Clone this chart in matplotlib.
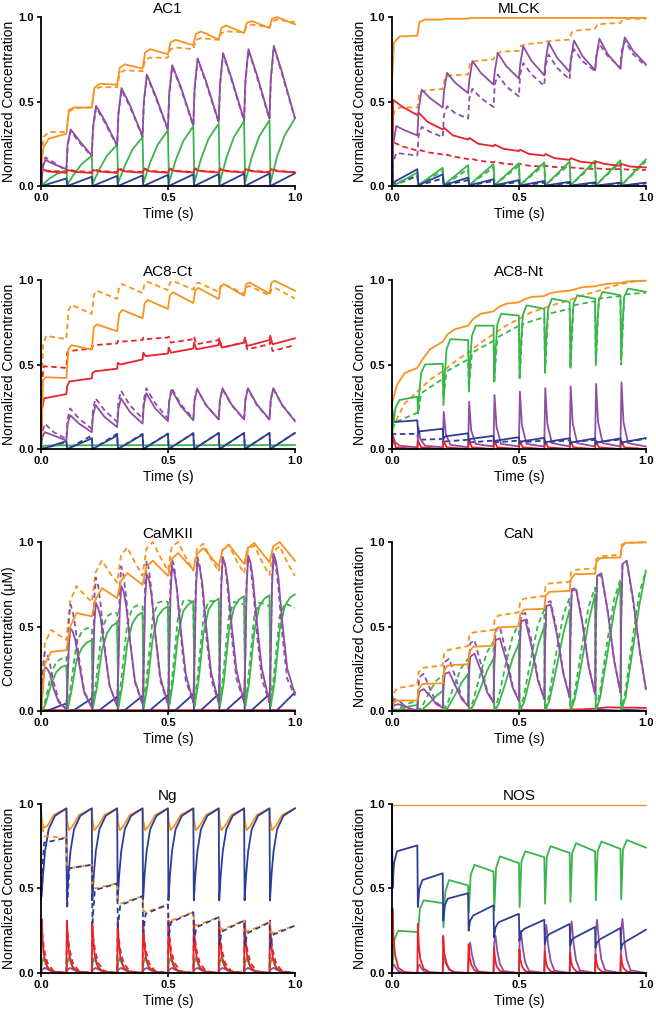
import matplotlib
matplotlib.use("Agg")
import matplotlib.pyplot as plt

# stimulation pulses (s); every curve below is given per pulse period as
# values read at fixed time offsets after the pulse
PULSES = [0.0, 0.1, 0.2, 0.3, 0.4, 0.5, 0.6, 0.7, 0.8, 0.9]

OR = "#F7931E"
PU = "#8E4FA3"
GR = "#3AB54A"
BL = "#2E3E98"
RD = "#E8232A"

# ---------------- AC1 ----------------
AC1_OR_S = ([0.01, 0.03, 0.1], 0.12, [
    (0.23, 0.28, 0.31), (0.45, 0.465, 0.465), (0.58, 0.605, 0.60), (0.70, 0.72, 0.695),
    (0.79, 0.81, 0.78), (0.85, 0.865, 0.833), (0.90, 0.915, 0.868), (0.935, 0.95, 0.905),
    (0.965, 0.976, 0.935), (0.99, 1.0, 0.957)])
AC1_OR_D = ([0.01, 0.03, 0.1], 0.13, [
    (0.29, 0.32, 0.32), (0.44, 0.46, 0.465), (0.57, 0.585, 0.585), (0.67, 0.685, 0.68),
    (0.745, 0.76, 0.76), (0.81, 0.82, 0.81), (0.865, 0.875, 0.865), (0.905, 0.915, 0.91),
    (0.945, 0.955, 0.94), (0.975, 0.985, 0.97)])
AC1_PU_S = ([0.005, 0.017, 0.05, 0.1], 0.0, [
    (0.10, 0.155, 0.13, 0.10), (0.25, 0.335, 0.27, 0.18), (0.35, 0.475, 0.39, 0.24),
    (0.43, 0.58, 0.48, 0.295), (0.50, 0.66, 0.54, 0.335), (0.55, 0.715, 0.59, 0.36),
    (0.58, 0.755, 0.62, 0.38), (0.60, 0.787, 0.64, 0.39), (0.62, 0.81, 0.66, 0.40),
    (0.63, 0.83, 0.67, 0.405)])
AC1_PU_D = ([0.005, 0.017, 0.05, 0.1], 0.0, [
    (0.12, 0.17, 0.14, 0.09), (0.24, 0.325, 0.26, 0.175), (0.34, 0.465, 0.38, 0.235),
    (0.42, 0.57, 0.47, 0.29), (0.49, 0.65, 0.53, 0.33), (0.54, 0.71, 0.58, 0.355),
    (0.57, 0.75, 0.61, 0.375), (0.59, 0.78, 0.63, 0.385), (0.61, 0.805, 0.65, 0.395),
    (0.62, 0.825, 0.66, 0.40)])
AC1_GR_S = ([0.004, 0.03, 0.06, 0.1], 0.0, [
    (0.005, 0.04, 0.07, 0.095), (0.01, 0.07, 0.13, 0.18), (0.015, 0.10, 0.18, 0.245),
    (0.02, 0.12, 0.215, 0.29), (0.02, 0.14, 0.245, 0.33), (0.02, 0.15, 0.265, 0.355),
    (0.02, 0.16, 0.28, 0.37), (0.02, 0.165, 0.29, 0.385), (0.02, 0.17, 0.295, 0.39),
    (0.02, 0.175, 0.30, 0.40)])
AC1_BL_S = ([0.003, 0.1], 0.12, [
    (0.0, 0.045), (0.0, 0.055), (0.0, 0.06), (0.0, 0.063), (0.0, 0.066),
    (0.0, 0.069), (0.0, 0.071), (0.0, 0.073), (0.0, 0.074), (0.0, 0.075)])
AC1_RD_S = ([0.006, 0.03, 0.1], 0.0, [
    (0.10, 0.086, 0.078), (0.095, 0.085, 0.077), (0.095, 0.086, 0.078), (0.10, 0.087, 0.079),
    (0.10, 0.087, 0.079), (0.10, 0.088, 0.08), (0.10, 0.088, 0.08), (0.10, 0.088, 0.08),
    (0.10, 0.088, 0.08), (0.10, 0.088, 0.08)])
AC1_RD_D = ([0.006, 0.03, 0.1], 0.0, [
    (0.09, 0.09, 0.085), (0.10, 0.09, 0.082), (0.10, 0.09, 0.082), (0.105, 0.09, 0.082),
    (0.105, 0.09, 0.082), (0.105, 0.09, 0.083), (0.105, 0.09, 0.083), (0.105, 0.09, 0.083),
    (0.105, 0.09, 0.083), (0.105, 0.09, 0.083)])

# ---------------- MLCK ----------------
MLCK_OR_S = ([0.008, 0.03, 0.1], 0.62, [
    (0.85, 0.885, 0.89), (0.97, 0.985, 0.985), (0.99, 0.99, 0.99), (0.995, 0.995, 0.995),
    (0.995, 0.995, 0.995), (0.995, 0.995, 0.995), (0.995, 0.995, 0.995), (0.995, 0.995, 0.995),
    (0.995, 0.995, 0.995), (0.995, 0.995, 0.995)])
MLCK_OR_D = ([0.008, 0.03, 0.1], 0.31, [
    (0.44, 0.465, 0.465), (0.55, 0.565, 0.575), (0.64, 0.655, 0.66), (0.73, 0.74, 0.75),
    (0.78, 0.795, 0.80), (0.83, 0.84, 0.85), (0.855, 0.86, 0.866), (0.91, 0.92, 0.93),
    (0.955, 0.96, 0.965), (0.985, 0.99, 0.99)])
MLCK_PU_S = ([0.005, 0.017, 0.05, 0.1], 0.0, [
    (0.25, 0.355, 0.33, 0.30), (0.45, 0.57, 0.52, 0.465), (0.56, 0.67, 0.61, 0.55),
    (0.63, 0.74, 0.67, 0.60), (0.68, 0.787, 0.71, 0.636), (0.72, 0.827, 0.74, 0.655),
    (0.74, 0.85, 0.76, 0.675), (0.75, 0.862, 0.77, 0.685), (0.76, 0.872, 0.78, 0.693),
    (0.77, 0.88, 0.80, 0.72)])
MLCK_PU_D = ([0.005, 0.017, 0.05, 0.1], 0.0, [
    (0.14, 0.195, 0.19, 0.18), (0.30, 0.35, 0.32, 0.29), (0.42, 0.472, 0.43, 0.40),
    (0.52, 0.575, 0.52, 0.468), (0.60, 0.66, 0.59, 0.53), (0.66, 0.728, 0.66, 0.594),
    (0.71, 0.778, 0.70, 0.63), (0.75, 0.81, 0.74, 0.68), (0.78, 0.84, 0.77, 0.70),
    (0.80, 0.86, 0.78, 0.71)])
MLCK_RD_S = ([0.005, 0.04, 0.1], 0.0, [
    (0.51, 0.47, 0.42), (0.435, 0.38, 0.335), (0.345, 0.30, 0.275), (0.285, 0.25, 0.236),
    (0.245, 0.22, 0.207), (0.215, 0.19, 0.18), (0.19, 0.165, 0.155), (0.165, 0.145, 0.135),
    (0.145, 0.13, 0.12), (0.13, 0.115, 0.11)])
MLCK_RD_D = ([0.005, 0.04, 0.1], 0.0, [
    (0.26, 0.235, 0.21), (0.215, 0.20, 0.187), (0.19, 0.175, 0.16), (0.165, 0.15, 0.14),
    (0.145, 0.133, 0.125), (0.13, 0.12, 0.115), (0.12, 0.113, 0.11), (0.11, 0.105, 0.10),
    (0.105, 0.10, 0.10), (0.10, 0.097, 0.095)])
MLCK_GR_S = ([0.004, 0.1], 0.0, [
    (0.0, 0.08), (0.005, 0.108), (0.005, 0.124), (0.005, 0.13), (0.005, 0.135),
    (0.005, 0.14), (0.005, 0.145), (0.005, 0.15), (0.005, 0.152), (0.005, 0.157)])
MLCK_GR_D = ([0.004, 0.1], 0.0, [
    (0.0, 0.06), (0.005, 0.09), (0.005, 0.10), (0.005, 0.11), (0.005, 0.12),
    (0.005, 0.125), (0.005, 0.13), (0.005, 0.135), (0.005, 0.14), (0.005, 0.145)])
MLCK_BL_S = ([0.004, 0.1], 0.62, [
    (0.02, 0.10), (0.005, 0.069), (0.005, 0.05), (0.004, 0.04), (0.004, 0.035),
    (0.003, 0.03), (0.003, 0.025), (0.003, 0.022), (0.003, 0.02), (0.003, 0.02)])
MLCK_BL_D = ([0.004, 0.1], 0.0, [
    (0.01, 0.06), (0.003, 0.045), (0.003, 0.035), (0.003, 0.03), (0.003, 0.025),
    (0.002, 0.02), (0.002, 0.018), (0.002, 0.016), (0.002, 0.015), (0.002, 0.015)])

# ---------------- AC8-Ct ----------------
CT_OR_S = ([0.008, 0.02, 0.1], 0.0, [
    (0.41, 0.425, 0.42), (0.59, 0.615, 0.588), (0.72, 0.737, 0.697), (0.80, 0.823, 0.774),
    (0.86, 0.882, 0.829), (0.91, 0.927, 0.864), (0.94, 0.953, 0.888), (0.96, 0.976, 0.907),
    (0.975, 0.986, 0.92), (0.985, 0.996, 0.937)])
CT_OR_D = ([0.008, 0.02, 0.1], 0.0, [
    (0.62, 0.67, 0.65), (0.82, 0.853, 0.80), (0.91, 0.937, 0.888), (0.96, 0.976, 0.923),
    (0.98, 0.99, 0.94), (0.985, 0.995, 0.943), (0.975, 0.985, 0.93), (0.965, 0.975, 0.92),
    (0.955, 0.965, 0.91), (0.945, 0.955, 0.89)])
CT_RD_S = ([0.003, 0.012, 0.1], 0.0, [
    (0.22, 0.30, 0.325), (0.37, 0.40, 0.418), (0.45, 0.46, 0.475), (0.51, 0.50, 0.53),
    (0.57, 0.55, 0.565), (0.60, 0.57, 0.595), (0.63, 0.59, 0.615), (0.645, 0.60, 0.63),
    (0.66, 0.61, 0.645), (0.67, 0.62, 0.655)])
CT_RD_D = ([0.003, 0.012, 0.1], 0.0, [
    (0.40, 0.49, 0.48), (0.57, 0.58, 0.595), (0.61, 0.615, 0.625), (0.64, 0.635, 0.645),
    (0.66, 0.65, 0.66), (0.665, 0.63, 0.65), (0.665, 0.62, 0.645), (0.655, 0.60, 0.63),
    (0.645, 0.59, 0.62), (0.635, 0.58, 0.615)])
CT_PU_S = ([0.005, 0.015, 0.05, 0.1], 0.0, [
    (0.07, 0.10, 0.08, 0.05), (0.15, 0.20, 0.15, 0.10), (0.20, 0.26, 0.19, 0.13),
    (0.24, 0.30, 0.22, 0.15), (0.26, 0.33, 0.24, 0.165), (0.28, 0.35, 0.255, 0.17),
    (0.29, 0.355, 0.26, 0.175), (0.29, 0.36, 0.265, 0.175), (0.29, 0.36, 0.265, 0.175),
    (0.29, 0.36, 0.26, 0.165)])
CT_PU_D = ([0.005, 0.015, 0.05, 0.1], 0.0, [
    (0.10, 0.15, 0.10, 0.06), (0.18, 0.24, 0.18, 0.12), (0.24, 0.30, 0.23, 0.16),
    (0.28, 0.345, 0.26, 0.18), (0.29, 0.36, 0.27, 0.18), (0.29, 0.36, 0.265, 0.18),
    (0.29, 0.355, 0.26, 0.175), (0.29, 0.355, 0.26, 0.175), (0.29, 0.355, 0.26, 0.175),
    (0.29, 0.355, 0.26, 0.17)])
CT_BL_S = ([0.003, 0.1], 0.0, [
    (0.0, 0.047), (0.0, 0.063), (0.0, 0.08), (0.0, 0.085), (0.0, 0.09),
    (0.0, 0.093), (0.0, 0.095), (0.0, 0.095), (0.0, 0.095), (0.0, 0.095)])
CT_BL_D = ([0.003, 0.1], 0.0, [
    (0.0, 0.04), (0.0, 0.08), (0.0, 0.09), (0.0, 0.09), (0.0, 0.092),
    (0.0, 0.094), (0.0, 0.095), (0.0, 0.095), (0.0, 0.095), (0.0, 0.095)])
CT_GR_S = ([0.01, 0.1], 0.0, [
    (0.02, 0.022), (0.021, 0.023), (0.022, 0.023), (0.022, 0.024), (0.022, 0.024),
    (0.022, 0.024), (0.022, 0.024), (0.022, 0.024), (0.022, 0.024), (0.022, 0.024)])

# ---------------- AC8-Nt ----------------
NT_OR_S = ([0.02, 0.05, 0.1], 0.27, [
    (0.38, 0.45, 0.48), (0.53, 0.59, 0.635), (0.68, 0.71, 0.73), (0.77, 0.80, 0.815),
    (0.84, 0.86, 0.868), (0.885, 0.90, 0.905), (0.92, 0.93, 0.937), (0.945, 0.958, 0.963),
    (0.97, 0.978, 0.982), (0.99, 0.994, 0.996)])
NT_OR_D = ([0.05, 0.1], 0.12, [
    (0.27, 0.34), (0.41, 0.46), (0.52, 0.57), (0.63, 0.68), (0.73, 0.77),
    (0.81, 0.835), (0.86, 0.88), (0.91, 0.93), (0.955, 0.975), (0.99, 0.996)])
NT_GR_S = ([0.003, 0.008, 0.015, 0.03, 0.1], 0.05, [
    (0.12, 0.18, 0.25, 0.29, 0.31), (0.21, 0.34, 0.45, 0.50, 0.505),
    (0.26, 0.44, 0.59, 0.65, 0.645), (0.34, 0.52, 0.67, 0.73, 0.73),
    (0.40, 0.58, 0.74, 0.80, 0.79), (0.42, 0.62, 0.79, 0.85, 0.83),
    (0.46, 0.66, 0.83, 0.89, 0.87), (0.50, 0.69, 0.86, 0.91, 0.89),
    (0.52, 0.71, 0.88, 0.93, 0.91), (0.53, 0.73, 0.90, 0.95, 0.93)])
NT_GR_D = ([0.003, 0.015, 0.1], 0.12, [
    (0.12, 0.16, 0.215), (0.21, 0.33, 0.415), (0.30, 0.46, 0.53), (0.36, 0.57, 0.64),
    (0.40, 0.66, 0.73), (0.42, 0.74, 0.78), (0.45, 0.80, 0.83), (0.47, 0.85, 0.875),
    (0.49, 0.89, 0.905), (0.50, 0.915, 0.925)])
NT_PU_S = ([0.004, 0.012, 0.03, 0.1], 0.0, [
    (0.08, 0.04, 0.02, 0.01), (0.13, 0.06, 0.02, 0.01), (0.22, 0.09, 0.025, 0.01),
    (0.28, 0.11, 0.03, 0.015), (0.32, 0.13, 0.03, 0.015), (0.34, 0.14, 0.03, 0.015),
    (0.36, 0.15, 0.035, 0.015), (0.37, 0.15, 0.035, 0.015), (0.385, 0.16, 0.035, 0.015),
    (0.395, 0.16, 0.035, 0.015)])
NT_BL_S = ([0.003, 0.01, 0.1], 0.27, [
    (0.20, 0.16, 0.17), (0.09, 0.105, 0.12), (0.06, 0.075, 0.093), (0.045, 0.06, 0.078),
    (0.04, 0.05, 0.07), (0.035, 0.045, 0.066), (0.032, 0.042, 0.064), (0.03, 0.04, 0.063),
    (0.03, 0.04, 0.063), (0.03, 0.04, 0.065)])
NT_BL_D = ([0.003, 0.01, 0.1], 0.10, [
    (0.09, 0.088, 0.09), (0.05, 0.055, 0.06), (0.04, 0.045, 0.055), (0.035, 0.04, 0.05),
    (0.033, 0.04, 0.05), (0.03, 0.04, 0.05), (0.03, 0.04, 0.052), (0.03, 0.04, 0.055),
    (0.03, 0.04, 0.057), (0.03, 0.04, 0.06)])
NT_RD_S = ([0.003, 0.015, 0.1], 0.0, [
    (0.07, 0.01, 0.0), (0.05, 0.01, 0.0), (0.05, 0.01, 0.0), (0.05, 0.01, 0.0), (0.05, 0.01, 0.0),
    (0.05, 0.01, 0.0), (0.05, 0.01, 0.0), (0.05, 0.01, 0.0), (0.05, 0.01, 0.0), (0.05, 0.01, 0.0)])

# ---------------- CaMKII ----------------
CK_OR_S = ([0.015, 0.04, 0.1], 0.0, [
    (0.28, 0.35, 0.36), (0.50, 0.58, 0.56), (0.66, 0.727, 0.668), (0.77, 0.816, 0.747),
    (0.85, 0.89, 0.80), (0.90, 0.935, 0.836), (0.93, 0.964, 0.856), (0.95, 0.984, 0.87),
    (0.965, 0.994, 0.88), (0.975, 1.0, 0.889)])
CK_OR_D = ([0.015, 0.04, 0.07, 0.1], 0.0, [
    (0.40, 0.48, 0.45, 0.42), (0.65, 0.74, 0.69, 0.645), (0.82, 0.89, 0.82, 0.76),
    (0.92, 0.968, 0.88, 0.80), (0.96, 1.0, 0.91, 0.83), (0.97, 1.0, 0.91, 0.83),
    (0.96, 0.99, 0.90, 0.825), (0.955, 0.985, 0.89, 0.815), (0.95, 0.98, 0.885, 0.805),
    (0.945, 0.975, 0.88, 0.80)])
CK_PU_S = ([0.005, 0.01, 0.016, 0.025, 0.035, 0.05, 0.07, 0.1], 0.0, [
    (0.09, 0.21, 0.26, 0.25, 0.22, 0.13, 0.05, 0.01),
    (0.17, 0.39, 0.49, 0.47, 0.42, 0.28, 0.11, 0.02),
    (0.22, 0.51, 0.64, 0.61, 0.55, 0.37, 0.15, 0.03),
    (0.26, 0.59, 0.74, 0.71, 0.63, 0.42, 0.18, 0.04),
    (0.28, 0.65, 0.81, 0.78, 0.69, 0.46, 0.20, 0.04),
    (0.30, 0.68, 0.855, 0.82, 0.73, 0.49, 0.22, 0.05),
    (0.31, 0.71, 0.889, 0.85, 0.76, 0.51, 0.23, 0.05),
    (0.32, 0.73, 0.91, 0.87, 0.77, 0.52, 0.24, 0.05),
    (0.32, 0.74, 0.92, 0.88, 0.78, 0.53, 0.25, 0.05),
    (0.33, 0.74, 0.93, 0.89, 0.79, 0.53, 0.25, 0.10)])
CK_PU_D = ([0.005, 0.01, 0.016, 0.025, 0.035, 0.05, 0.07, 0.1], 0.0, [
    (0.14, 0.30, 0.35, 0.33, 0.28, 0.17, 0.06, 0.01),
    (0.25, 0.54, 0.63, 0.59, 0.50, 0.31, 0.12, 0.02),
    (0.32, 0.67, 0.79, 0.74, 0.63, 0.39, 0.15, 0.03),
    (0.34, 0.73, 0.855, 0.80, 0.68, 0.43, 0.17, 0.04),
    (0.36, 0.76, 0.89, 0.84, 0.71, 0.45, 0.18, 0.04),
    (0.36, 0.77, 0.90, 0.85, 0.72, 0.45, 0.18, 0.05),
    (0.36, 0.77, 0.91, 0.86, 0.73, 0.46, 0.19, 0.05),
    (0.36, 0.77, 0.91, 0.86, 0.73, 0.46, 0.19, 0.05),
    (0.36, 0.77, 0.91, 0.86, 0.73, 0.46, 0.19, 0.05),
    (0.37, 0.78, 0.915, 0.86, 0.73, 0.46, 0.19, 0.09)])
CK_GR_S = ([0.005, 0.02, 0.04, 0.06, 0.08, 0.1], 0.0, [
    (0.0, 0.05, 0.16, 0.23, 0.26, 0.27), (0.01, 0.12, 0.30, 0.37, 0.405, 0.42),
    (0.02, 0.14, 0.36, 0.46, 0.505, 0.524), (0.02, 0.15, 0.40, 0.52, 0.565, 0.583),
    (0.02, 0.16, 0.43, 0.56, 0.60, 0.62), (0.03, 0.17, 0.45, 0.59, 0.63, 0.65),
    (0.03, 0.17, 0.46, 0.60, 0.645, 0.665), (0.03, 0.17, 0.47, 0.61, 0.66, 0.68),
    (0.03, 0.17, 0.47, 0.62, 0.665, 0.685), (0.03, 0.17, 0.48, 0.62, 0.67, 0.69)])
CK_GR_D = ([0.005, 0.02, 0.04, 0.06, 0.08, 0.1], 0.0, [
    (0.0, 0.08, 0.22, 0.29, 0.31, 0.32), (0.01, 0.18, 0.40, 0.47, 0.49, 0.49),
    (0.02, 0.22, 0.48, 0.56, 0.58, 0.58), (0.02, 0.24, 0.52, 0.61, 0.625, 0.62),
    (0.02, 0.25, 0.55, 0.64, 0.65, 0.645), (0.03, 0.25, 0.56, 0.65, 0.655, 0.645),
    (0.03, 0.25, 0.56, 0.65, 0.65, 0.64), (0.03, 0.25, 0.56, 0.645, 0.64, 0.63),
    (0.03, 0.25, 0.56, 0.64, 0.635, 0.62), (0.03, 0.25, 0.56, 0.635, 0.625, 0.61)])
CK_BL_S = ([0.003, 0.03, 0.1], 0.0, [
    (0.0, 0.005, 0.045), (0.0, 0.005, 0.075), (0.0, 0.005, 0.085), (0.0, 0.005, 0.09),
    (0.0, 0.005, 0.095), (0.0, 0.005, 0.10), (0.0, 0.005, 0.10), (0.0, 0.005, 0.10),
    (0.0, 0.005, 0.10), (0.0, 0.005, 0.11)])
CK_RD_S = ([0.01, 0.1], 0.0, [
    (0.006, 0.005), (0.006, 0.005), (0.006, 0.005), (0.006, 0.005), (0.006, 0.005),
    (0.006, 0.005), (0.006, 0.005), (0.006, 0.005), (0.006, 0.005), (0.006, 0.005)])

# ---------------- CaN ----------------
CN_OR_S = ([0.005, 0.02, 0.1], 0.0, [
    (0.045, 0.062, 0.062), (0.13, 0.16, 0.164), (0.24, 0.27, 0.277), (0.35, 0.38, 0.387),
    (0.46, 0.495, 0.50), (0.57, 0.60, 0.605), (0.68, 0.705, 0.711), (0.78, 0.81, 0.812),
    (0.88, 0.905, 0.909), (0.97, 0.995, 0.998)])
CN_OR_D = ([0.005, 0.02, 0.1], 0.0, [
    (0.10, 0.135, 0.155), (0.23, 0.255, 0.27), (0.34, 0.36, 0.385), (0.45, 0.465, 0.48),
    (0.55, 0.565, 0.585), (0.65, 0.665, 0.68), (0.74, 0.755, 0.765), (0.82, 0.835, 0.845),
    (0.90, 0.915, 0.925), (0.985, 0.995, 1.0)])
CN_PU_S = ([0.003, 0.008, 0.025, 0.05, 0.075, 0.1], 0.0, [
    (0.02, 0.035, 0.04, 0.03, 0.012, 0.005), (0.07, 0.115, 0.13, 0.09, 0.04, 0.02),
    (0.14, 0.22, 0.23, 0.15, 0.07, 0.03), (0.20, 0.32, 0.34, 0.24, 0.11, 0.05),
    (0.26, 0.42, 0.43, 0.30, 0.14, 0.06), (0.33, 0.53, 0.54, 0.38, 0.18, 0.07),
    (0.38, 0.62, 0.63, 0.45, 0.22, 0.08), (0.44, 0.71, 0.72, 0.52, 0.26, 0.10),
    (0.50, 0.80, 0.815, 0.59, 0.30, 0.11), (0.55, 0.87, 0.89, 0.66, 0.37, 0.13)])
CN_PU_D = ([0.003, 0.008, 0.025, 0.05, 0.075, 0.1], 0.0, [
    (0.04, 0.07, 0.065, 0.03, 0.01, 0.005), (0.12, 0.20, 0.22, 0.13, 0.05, 0.02),
    (0.18, 0.29, 0.31, 0.20, 0.08, 0.03), (0.25, 0.40, 0.42, 0.28, 0.12, 0.05),
    (0.31, 0.48, 0.50, 0.34, 0.15, 0.06), (0.37, 0.57, 0.58, 0.41, 0.19, 0.07),
    (0.41, 0.64, 0.65, 0.47, 0.23, 0.08), (0.46, 0.72, 0.73, 0.53, 0.27, 0.10),
    (0.50, 0.80, 0.80, 0.59, 0.30, 0.11), (0.55, 0.87, 0.88, 0.65, 0.36, 0.13)])
CN_GR_S = ([0.003, 0.02, 0.05, 0.075, 0.1], 0.0, [
    (0.0, 0.005, 0.02, 0.03, 0.035), (0.0, 0.01, 0.05, 0.09, 0.12),
    (0.0, 0.02, 0.10, 0.17, 0.22), (0.0, 0.03, 0.14, 0.24, 0.31),
    (0.0, 0.04, 0.18, 0.31, 0.40), (0.0, 0.05, 0.23, 0.39, 0.50),
    (0.0, 0.06, 0.27, 0.46, 0.60), (0.0, 0.07, 0.31, 0.53, 0.69),
    (0.0, 0.08, 0.35, 0.59, 0.76), (0.0, 0.08, 0.38, 0.63, 0.83)])
CN_GR_D = ([0.003, 0.02, 0.05, 0.075, 0.1], 0.0, [
    (0.0, 0.01, 0.035, 0.05, 0.06), (0.0, 0.03, 0.12, 0.18, 0.21),
    (0.0, 0.05, 0.17, 0.26, 0.31), (0.0, 0.06, 0.23, 0.35, 0.41),
    (0.0, 0.08, 0.29, 0.44, 0.52), (0.0, 0.09, 0.33, 0.51, 0.60),
    (0.0, 0.10, 0.37, 0.57, 0.67), (0.0, 0.11, 0.40, 0.62, 0.73),
    (0.0, 0.12, 0.43, 0.66, 0.78), (0.0, 0.12, 0.45, 0.70, 0.83)])
CN_RD_S = ([0.05, 0.1], 0.0, [
    (0.005, 0.005), (0.005, 0.005), (0.005, 0.005), (0.005, 0.005), (0.005, 0.005),
    (0.005, 0.006), (0.006, 0.008), (0.01, 0.014), (0.022, 0.02), (0.02, 0.018)])
CN_BL_S = ([0.01, 0.1], 0.0, [
    (0.008, 0.002), (0.008, 0.002), (0.008, 0.002), (0.008, 0.002), (0.008, 0.002),
    (0.008, 0.002), (0.008, 0.002), (0.008, 0.002), (0.008, 0.002), (0.008, 0.002)])

# ---------------- Ng ----------------
NG_BL_S = ([0.002, 0.008, 0.016, 0.03, 0.055, 0.1], 0.45, [
    (0.45, 0.58, 0.72, 0.85, 0.93, 0.974), (0.43, 0.58, 0.72, 0.85, 0.93, 0.974),
    (0.43, 0.58, 0.72, 0.85, 0.93, 0.974), (0.43, 0.58, 0.72, 0.85, 0.93, 0.974),
    (0.43, 0.58, 0.72, 0.85, 0.93, 0.974), (0.43, 0.58, 0.72, 0.85, 0.93, 0.974),
    (0.43, 0.58, 0.72, 0.85, 0.93, 0.974), (0.43, 0.58, 0.72, 0.85, 0.93, 0.974),
    (0.43, 0.58, 0.72, 0.85, 0.93, 0.974), (0.43, 0.58, 0.72, 0.85, 0.93, 0.974)])
NG_OR_S = ([0.003, 0.01, 0.025, 0.05, 0.1], 0.97, [
    (0.90, 0.86, 0.87, 0.935, 0.974), (0.90, 0.845, 0.87, 0.935, 0.974),
    (0.90, 0.845, 0.87, 0.935, 0.974), (0.90, 0.845, 0.87, 0.935, 0.974),
    (0.90, 0.845, 0.87, 0.935, 0.974), (0.90, 0.845, 0.87, 0.935, 0.974),
    (0.90, 0.845, 0.87, 0.935, 0.974), (0.90, 0.845, 0.87, 0.935, 0.974),
    (0.90, 0.845, 0.87, 0.935, 0.974), (0.90, 0.845, 0.87, 0.935, 0.974)])
NG_BL_D = ([0.003, 0.012, 0.1], 0.43, [
    (0.55, 0.77, 0.80), (0.38, 0.62, 0.64), (0.30, 0.49, 0.53), (0.27, 0.40, 0.455),
    (0.24, 0.35, 0.405), (0.21, 0.30, 0.36), (0.19, 0.27, 0.33), (0.17, 0.245, 0.31),
    (0.16, 0.235, 0.30), (0.15, 0.225, 0.28)])
NG_OR_D = ([0.003, 0.012, 0.1], 0.97, [
    (0.88, 0.81, 0.80), (0.64, 0.62, 0.64), (0.52, 0.50, 0.53), (0.43, 0.41, 0.455),
    (0.37, 0.36, 0.405), (0.33, 0.31, 0.36), (0.30, 0.28, 0.33), (0.28, 0.255, 0.31),
    (0.27, 0.245, 0.30), (0.25, 0.235, 0.28)])
NG_RD_S = ([0.002, 0.006, 0.012, 0.025, 0.05, 0.1], 0.0, [
    (0.32, 0.20, 0.10, 0.03, 0.005, 0.0), (0.31, 0.20, 0.10, 0.03, 0.005, 0.0),
    (0.30, 0.19, 0.10, 0.03, 0.005, 0.0), (0.30, 0.19, 0.10, 0.03, 0.005, 0.0),
    (0.31, 0.19, 0.10, 0.03, 0.005, 0.0), (0.31, 0.19, 0.10, 0.03, 0.005, 0.0),
    (0.31, 0.19, 0.10, 0.03, 0.005, 0.0), (0.31, 0.19, 0.10, 0.03, 0.005, 0.0),
    (0.31, 0.19, 0.10, 0.03, 0.005, 0.0), (0.31, 0.19, 0.10, 0.03, 0.005, 0.0)])
NG_RD_D = ([0.002, 0.006, 0.012, 0.025, 0.05, 0.1], 0.0, [
    (0.28, 0.22, 0.14, 0.06, 0.01, 0.0), (0.28, 0.22, 0.14, 0.06, 0.01, 0.0),
    (0.27, 0.21, 0.14, 0.06, 0.01, 0.0), (0.27, 0.21, 0.14, 0.06, 0.01, 0.0),
    (0.27, 0.21, 0.14, 0.06, 0.01, 0.0), (0.27, 0.21, 0.14, 0.06, 0.01, 0.0),
    (0.27, 0.21, 0.14, 0.06, 0.01, 0.0), (0.27, 0.21, 0.14, 0.06, 0.01, 0.0),
    (0.27, 0.21, 0.14, 0.06, 0.01, 0.0), (0.27, 0.21, 0.14, 0.06, 0.01, 0.0)])
NG_GR_S = ([0.004, 0.01, 0.02, 0.04, 0.1], 0.0, [
    (0.06, 0.09, 0.05, 0.01, 0.0), (0.06, 0.09, 0.05, 0.01, 0.0), (0.06, 0.09, 0.05, 0.01, 0.0),
    (0.06, 0.09, 0.05, 0.01, 0.0), (0.06, 0.09, 0.05, 0.01, 0.0), (0.06, 0.09, 0.05, 0.01, 0.0),
    (0.06, 0.09, 0.05, 0.01, 0.0), (0.06, 0.09, 0.05, 0.01, 0.0), (0.06, 0.09, 0.05, 0.01, 0.0),
    (0.06, 0.09, 0.05, 0.01, 0.0)])
NG_PU_S = ([0.005, 0.015, 0.04, 0.1], 0.0, [
    (0.02, 0.03, 0.01, 0.0), (0.02, 0.03, 0.01, 0.0), (0.02, 0.03, 0.01, 0.0), (0.02, 0.03, 0.01, 0.0),
    (0.02, 0.03, 0.01, 0.0), (0.02, 0.03, 0.01, 0.0), (0.02, 0.03, 0.01, 0.0), (0.02, 0.03, 0.01, 0.0),
    (0.02, 0.03, 0.01, 0.0), (0.02, 0.03, 0.01, 0.0)])

# ---------------- NOS ----------------
NOS_OR_S = ([0.1], 0.995, [
    (0.995,), (0.995,), (0.995,), (0.995,), (0.995,),
    (0.995,), (0.995,), (0.995,), (0.995,), (0.995,)])
NOS_BL_S = ([0.002, 0.008, 0.02, 0.1], 1.0, [
    (0.50, 0.65, 0.72, 0.755), (0.39, 0.50, 0.55, 0.59), (0.31, 0.40, 0.44, 0.472),
    (0.25, 0.31, 0.34, 0.40), (0.21, 0.27, 0.30, 0.35), (0.19, 0.24, 0.26, 0.315),
    (0.17, 0.21, 0.23, 0.29), (0.16, 0.195, 0.21, 0.272), (0.15, 0.18, 0.20, 0.266),
    (0.14, 0.17, 0.185, 0.256)])
NOS_GR_S = ([0.003, 0.01, 0.025, 0.1], 0.0, [
    (0.05, 0.20, 0.25, 0.242), (0.24, 0.38, 0.43, 0.413), (0.27, 0.48, 0.55, 0.518),
    (0.36, 0.58, 0.64, 0.60), (0.37, 0.62, 0.69, 0.65), (0.39, 0.66, 0.72, 0.685),
    (0.41, 0.69, 0.75, 0.71), (0.42, 0.71, 0.768, 0.72), (0.43, 0.72, 0.778, 0.734),
    (0.435, 0.73, 0.787, 0.742)])
NOS_RD_S = ([0.002, 0.006, 0.012, 0.025, 0.05, 0.1], 0.0, [
    (0.38, 0.21, 0.11, 0.03, 0.005, 0.0), (0.29, 0.16, 0.08, 0.025, 0.004, 0.0),
    (0.22, 0.12, 0.06, 0.02, 0.003, 0.0), (0.17, 0.095, 0.05, 0.015, 0.003, 0.0),
    (0.15, 0.085, 0.04, 0.012, 0.002, 0.0), (0.14, 0.08, 0.04, 0.011, 0.002, 0.0),
    (0.13, 0.07, 0.035, 0.01, 0.002, 0.0), (0.12, 0.065, 0.035, 0.01, 0.002, 0.0),
    (0.11, 0.06, 0.03, 0.009, 0.002, 0.0), (0.11, 0.06, 0.03, 0.009, 0.002, 0.0)])
NOS_PU_S = ([0.003, 0.008, 0.015, 0.025, 0.04, 0.1], 0.0, [
    (0.04, 0.05, 0.03, 0.012, 0.003, 0.0), (0.04, 0.05, 0.03, 0.012, 0.003, 0.0),
    (0.08, 0.10, 0.06, 0.025, 0.005, 0.0), (0.14, 0.18, 0.11, 0.045, 0.009, 0.0),
    (0.18, 0.22, 0.13, 0.055, 0.011, 0.0), (0.20, 0.25, 0.15, 0.063, 0.012, 0.0),
    (0.23, 0.285, 0.17, 0.071, 0.014, 0.0), (0.24, 0.305, 0.18, 0.076, 0.015, 0.0),
    (0.25, 0.315, 0.19, 0.079, 0.016, 0.0), (0.26, 0.32, 0.19, 0.08, 0.016, 0.0)])

NORM = "Normalized Concentration"
PANELS = [
    ("AC1", NORM, [(AC1_OR_D, OR, "--"), (AC1_PU_D, PU, "--"), (AC1_RD_D, RD, "--"),
                   (AC1_GR_S, GR, "-"), (AC1_BL_S, BL, "-"), (AC1_RD_S, RD, "-"),
                   (AC1_PU_S, PU, "-"), (AC1_OR_S, OR, "-")]),
    ("MLCK", NORM, [(MLCK_OR_D, OR, "--"), (MLCK_PU_D, PU, "--"), (MLCK_RD_D, RD, "--"),
                    (MLCK_GR_D, GR, "--"), (MLCK_BL_D, BL, "--"), (MLCK_GR_S, GR, "-"),
                    (MLCK_BL_S, BL, "-"), (MLCK_RD_S, RD, "-"), (MLCK_PU_S, PU, "-"),
                    (MLCK_OR_S, OR, "-")]),
    ("AC8-Ct", NORM, [(CT_OR_D, OR, "--"), (CT_RD_D, RD, "--"), (CT_PU_D, PU, "--"),
                      (CT_BL_D, BL, "--"), (CT_GR_S, GR, "-"), (CT_BL_S, BL, "-"),
                      (CT_PU_S, PU, "-"), (CT_RD_S, RD, "-"), (CT_OR_S, OR, "-")]),
    ("AC8-Nt", NORM, [(NT_OR_D, OR, "--"), (NT_GR_D, GR, "--"), (NT_BL_D, BL, "--"),
                      (NT_PU_S, PU, "-"), (NT_RD_S, RD, "-"), (NT_BL_S, BL, "-"),
                      (NT_GR_S, GR, "-"), (NT_OR_S, OR, "-")]),
    ("CaMKII", "Concentration (\u03bcM)", [(CK_OR_D, OR, "--"), (CK_GR_D, GR, "--"),
                                            (CK_PU_D, PU, "--"), (CK_RD_S, RD, "-"),
                                            (CK_BL_S, BL, "-"), (CK_GR_S, GR, "-"),
                                            (CK_PU_S, PU, "-"), (CK_OR_S, OR, "-")]),
    ("CaN", NORM, [(CN_OR_D, OR, "--"), (CN_PU_D, PU, "--"), (CN_GR_D, GR, "--"),
                   (CN_BL_S, BL, "-"), (CN_RD_S, RD, "-"), (CN_GR_S, GR, "-"),
                   (CN_PU_S, PU, "-"), (CN_OR_S, OR, "-")]),
    ("Ng", NORM, [(NG_PU_S, PU, "-"), (NG_GR_S, GR, "-"), (NG_RD_D, RD, "--"),
                  (NG_RD_S, RD, "-"), (NG_OR_S, OR, "-"), (NG_BL_S, BL, "-"),
                  (NG_OR_D, OR, "--"), (NG_BL_D, BL, "--")]),
    ("NOS", NORM, [(NOS_OR_S, OR, "-"), (NOS_PU_S, PU, "-"), (NOS_GR_S, GR, "-"),
                   (NOS_BL_S, BL, "-"), (NOS_RD_S, RD, "-")]),
]


def trace(curve):
    offsets, y0, periods = curve
    t, y = [0.0], [y0]
    for p, vals in zip(PULSES, periods):
        for o, v in zip(offsets, vals):
            t.append(p + o)
            y.append(v)
    return t, y


plt.rcParams["font.family"] = ["Liberation Sans", "DejaVu Sans"]
fig = plt.figure(figsize=(6.56, 10.15), dpi=100)

lefts = [0.0625, 0.5975]
bottoms = [0.8167, 0.5576, 0.2995, 0.0414]
w, h = 0.387, 0.1665

for i, (title, ylabel, curves) in enumerate(PANELS):
    ax = fig.add_axes([lefts[i % 2], bottoms[i // 2], w, h])
    for curve, color, ls in curves:
        t, y = trace(curve)
        lw = 0.9 if (title == "NOS" and color == OR) else 1.3
        ax.plot(t, y, color=color, lw=lw, ls=ls, dashes=(3, 2) if ls == "--" else (None, None),
                clip_on=False, solid_joinstyle="round")
    ax.set_xlim(0, 1)
    ax.set_ylim(0, 1)
    ax.set_xticks([0, 0.5, 1.0])
    ax.set_yticks([0, 0.5, 1.0])
    ax.set_xticklabels(["0.0", "0.5", "1.0"], fontweight="bold", fontsize=8)
    ax.set_yticklabels(["0.0", "0.5", "1.0"], fontweight="bold", fontsize=8)
    ax.tick_params(direction="out", length=3, width=1.2, pad=2)
    for s in ("top", "right"):
        ax.spines[s].set_visible(False)
    for s in ("left", "bottom"):
        ax.spines[s].set_linewidth(1.3)
    ax.set_title(title, fontsize=11, pad=3)
    ax.set_xlabel("Time (s)", fontsize=10, labelpad=3)
    ax.set_ylabel(ylabel, fontsize=10, labelpad=2)

fig.savefig("out.png", dpi=100)
